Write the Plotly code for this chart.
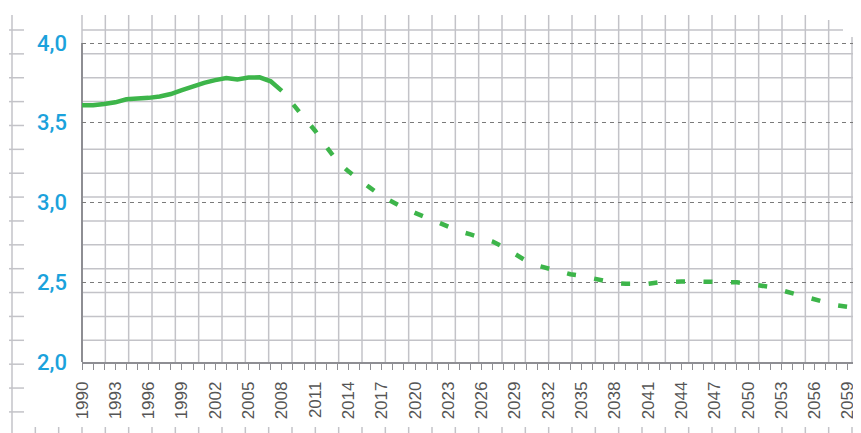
import plotly.graph_objects as go

# ---------------- data ----------------
years_obs = list(range(1990, 2009))
vals_obs = [3.61, 3.61, 3.618, 3.628, 3.647, 3.65, 3.656, 3.665, 3.68, 3.705,
            3.73, 3.75, 3.767, 3.781, 3.771, 3.783, 3.785, 3.76, 3.70]

years_proj = list(range(2008, 2061))
vals_proj = [3.70, 3.615, 3.53, 3.45, 3.35, 3.26, 3.195, 3.14, 3.09, 3.04,
             3.00, 2.965, 2.935, 2.905, 2.875, 2.845, 2.82, 2.80, 2.78, 2.755,
             2.72, 2.675, 2.635, 2.605, 2.585, 2.565, 2.55, 2.54, 2.525, 2.51,
             2.495, 2.49, 2.49, 2.49, 2.50, 2.505, 2.505, 2.505, 2.505, 2.505,
             2.505, 2.50, 2.49, 2.48, 2.47, 2.45, 2.43, 2.41, 2.39, 2.37,
             2.355, 2.345, 2.34]

x_tick_vals = list(range(1990, 2060, 3))
x_tick_text = [str(v) for v in x_tick_vals]
y_tick_vals = [2.0, 2.5, 3.0, 3.5, 4.0]
y_tick_text = ["2,0", "2,5", "3,0", "3,5", "4,0"]

# ---------------- layout geometry (screen pixels) ----------------
OFF = 8                      # page body margin of the browser
SW, SH = 861, 433            # window size
FW, FH = SW - OFF, SH - OFF  # figure size so that it ends at the window edge
L, R, T, B = 82, 861, 15, 362
W, H = R - L, B - T
PX_PER_YEAR = 11.1
PX_PER_UNIT = 159.5
GREEN = "#3db54a"
GRID = "#c3c3c8"
AXIS = "#8e8e93"


def px(x):
    return (x - L) / W


def py(y):
    return (B - y) / H


shapes = []


def seg(x0, y0, x1, y1, color=GRID, width=1.5):
    shapes.append(dict(type="line", xref="paper", yref="paper",
                       x0=px(x0), y0=py(y0), x1=px(x1), y1=py(y1),
                       line=dict(color=color, width=width), layer="below"))


cx = 70 / 3.0   # grid paper cell width
cy = 23.87      # grid paper cell height

# vertical grid-paper lines inside plot
for k in range(0, 34):
    x = L + k * cx
    top = T
    if k == 32:
        top = 20
    elif k == 33:
        top = 37
    seg(x, B, x, top)

# horizontal grid-paper lines inside plot
for k in range(0, 14):
    if k == 4:
        continue
    y = 30 + k * cy
    seg(L, y, 843 if k == 0 else R, y)

# margin decoration: left rule, short marks and bottom dots
seg(12, T, 12, SH)
for k in range(0, 17):
    y = 30 + k * cy
    seg(9, y, 24, y)
for k in range(-2, 34):
    x = L + k * cx
    seg(x, 427, x, SH)

# y axis line (from 2,0 to 4,0)
shapes.append(dict(type="line", xref="paper", yref="y", x0=0, x1=0, y0=2.0, y1=4.0,
                   line=dict(color=AXIS, width=2), layer="below"))

fig = go.Figure()
fig.add_trace(go.Scatter(x=years_obs, y=vals_obs, mode="lines",
                         line=dict(color=GREEN, width=4.5), hoverinfo="skip",
                         showlegend=False))
fig.add_trace(go.Scatter(x=years_proj, y=vals_proj, mode="lines",
                         line=dict(color=GREEN, width=4.5, dash="0px,18px,9px,0.5px"),
                         hoverinfo="skip", showlegend=False))

fig.update_layout(
    width=FW, height=FH,
    margin=dict(l=L - OFF, r=SW - R, t=T - OFF, b=SH - B, pad=0, autoexpand=False),
    paper_bgcolor="white", plot_bgcolor="rgba(0,0,0,0)",
    shapes=shapes,
    showlegend=False,
    xaxis=dict(range=[1990, 1990 + W / PX_PER_YEAR], tickmode="array", automargin=False,
               tickvals=x_tick_vals, ticktext=x_tick_text, tickangle=-90,
               ticks="outside", ticklen=6, tickcolor=AXIS, tickwidth=1,
               minor=dict(ticks="outside", dtick=1, ticklen=6, tickcolor=AXIS, tickwidth=1),
               showgrid=False, zeroline=False, showline=True, linecolor=AXIS, linewidth=1.5,
               ticklabelstandoff=5, ticklabeloverflow="allow",
               tickfont=dict(family="Liberation Sans, Arial, sans-serif", size=17, color="#555555")),
    yaxis=dict(range=[2.0, 2.0 + H / PX_PER_UNIT], tickmode="array", automargin=False,
               tickvals=y_tick_vals, ticktext=y_tick_text, ticks="",
               showgrid=True, gridcolor="#7a7a7a", gridwidth=1, griddash="4px,4px",
               zeroline=False, showline=False, ticklabelstandoff=14,
               tickfont=dict(family="Roboto, Liberation Sans, Arial, sans-serif", size=22,
                             color="#1ba2dc", weight=500)),
)

fig.write_html("out.html")
